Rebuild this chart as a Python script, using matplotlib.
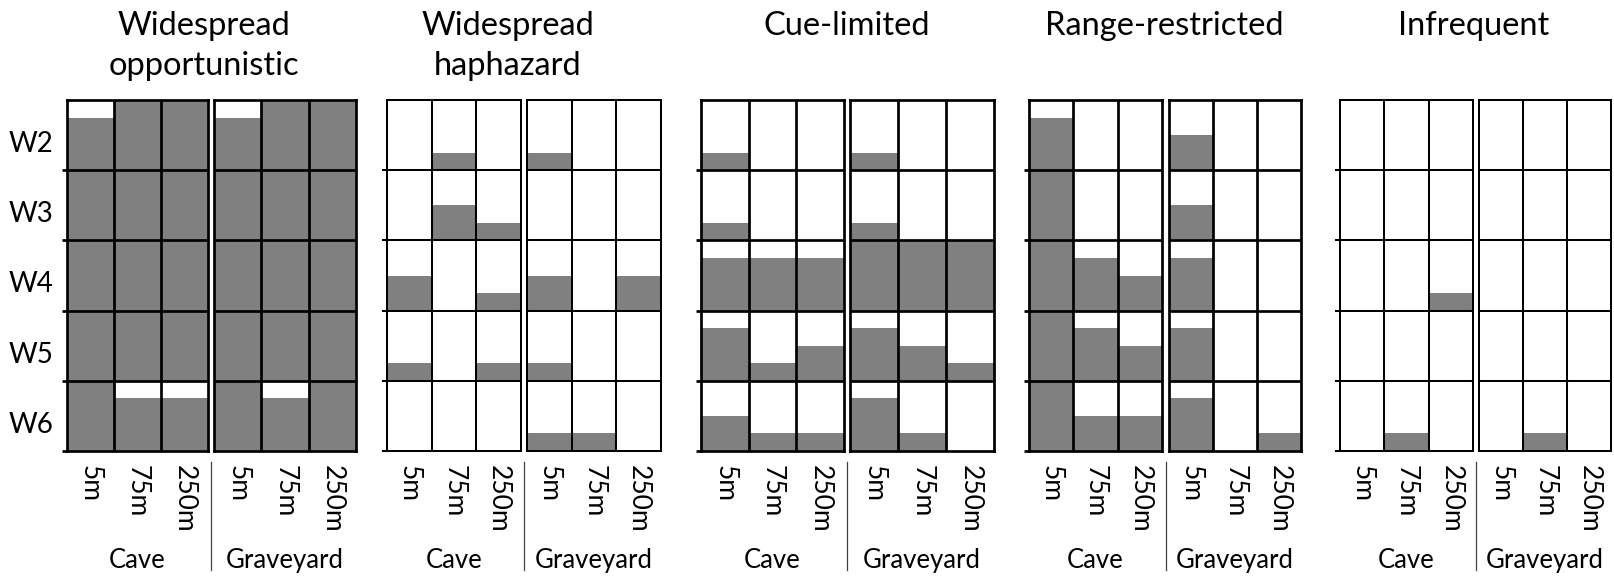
import matplotlib
matplotlib.use("Agg")
import matplotlib.pyplot as plt
import matplotlib.transforms as mtransforms
from matplotlib.lines import Line2D
import numpy as np

plt.rcParams["font.family"] = ["Lato", "DejaVu Sans"]

# ---- data: fraction of each cell filled (rows W2..W6, columns 5m/75m/250m) ----
weeks = ["W2", "W3", "W4", "W5", "W6"]
distances = ["5m", "75m", "250m"]
habitats = ["Cave", "Graveyard"]
titles = ["Widespread\nopportunistic", "Widespread\nhaphazard", "Cue-limited",
          "Range-restricted", "Infrequent"]

opportunistic_cave = [[0.75, 1, 1], [1, 1, 1], [1, 1, 1], [1, 1, 1], [1, 0.75, 0.75]]
opportunistic_grave = [[0.75, 1, 1], [1, 1, 1], [1, 1, 1], [1, 1, 1], [1, 0.75, 1]]

haphazard_cave = [[0, 0.25, 0], [0, 0.5, 0.25], [0.5, 0, 0.25], [0.25, 0, 0.25], [0, 0, 0]]
haphazard_grave = [[0.25, 0, 0], [0, 0, 0], [0.5, 0, 0.5], [0.25, 0, 0], [0.25, 0.25, 0]]

cue_cave = [[0.25, 0, 0], [0.25, 0, 0], [0.75, 0.75, 0.75], [0.75, 0.25, 0.5], [0.5, 0.25, 0.25]]
cue_grave = [[0.25, 0, 0], [0.25, 0, 0], [1, 1, 1], [0.75, 0.5, 0.25], [0.75, 0.25, 0]]

range_cave = [[0.75, 0, 0], [1, 0, 0], [1, 0.75, 0.5], [1, 0.75, 0.5], [1, 0.5, 0.5]]
range_grave = [[0.5, 0, 0], [0.5, 0, 0], [0.75, 0, 0], [0.75, 0, 0], [0.75, 0, 0.25]]

infrequent_cave = [[0, 0, 0], [0, 0, 0], [0, 0, 0.25], [0, 0, 0], [0, 0.25, 0]]
infrequent_grave = [[0, 0, 0], [0, 0, 0], [0, 0, 0], [0, 0, 0], [0, 0.25, 0]]

panels = [
    (opportunistic_cave, opportunistic_grave),
    (haphazard_cave, haphazard_grave),
    (cue_cave, cue_grave),
    (range_cave, range_grave),
    (infrequent_cave, infrequent_grave),
]

# ---- layout (figure pixels) ----
W, H, DPI = 1614, 576, 100
grid_top, grid_bottom = 100, 451
sub_x = [
    ((67, 208), (214, 356)),
    ((387, 521), (527, 661)),
    ((701, 844), (850, 994)),
    ((1029, 1162), (1169, 1301)),
    ((1340, 1473), (1479, 1611)),
]
title_x = [204, 508, 847, 1164, 1474]
line_w = [1.95, 1.45, 1.95, 1.95, 1.45]
fill_color = "#808080"

fig = plt.figure(figsize=(W / DPI, H / DPI), dpi=DPI)


def px_axes(x0, x1):
    return fig.add_axes([x0 / W, (H - grid_bottom) / H,
                         (x1 - x0) / W, (grid_bottom - grid_top) / H])


for p, (pair, subs) in enumerate(zip(panels, sub_x)):
    lw = line_w[p]
    for h, (vals, (x0, x1)) in enumerate(zip(pair, subs)):
        ax = px_axes(x0, x1)
        vals = np.asarray(vals, dtype=float)
        cols = np.arange(len(distances))
        for i in range(len(weeks)):
            base = len(weeks) - 1 - i
            ax.bar(cols, vals[i], bottom=base, width=1.0,
                   color=fill_color, linewidth=0, zorder=1)
        for y in range(1, len(weeks)):
            ax.axhline(y, color="black", lw=lw, zorder=3)
        for x in cols[:-1] + 0.5:
            ax.axvline(x, color="black", lw=lw, zorder=3)
        ax.set_xlim(-0.5, len(distances) - 0.5)
        ax.set_ylim(0, len(weeks))
        for s in ax.spines.values():
            s.set_linewidth(lw)
            s.set_zorder(4)
        ax.set_xticks(cols)
        ax.set_xticklabels(distances, rotation=270, fontsize=19,
                           va="top", ha="center")
        ax.tick_params(axis="x", length=0, pad=10)
        if h == 0:
            ax.set_yticks(range(len(weeks)))
            ax.set_yticklabels([])
            ax.tick_params(axis="y", length=3.8, width=lw, direction="out")
        else:
            ax.set_yticks([])
        fig.text((x0 + x1) / 2 / W, 1 - 568 / H, habitats[h],
                 ha="center", va="baseline", fontsize=18.5)
        if p == 0 and h == 0:
            trans = (mtransforms.blended_transform_factory(fig.transFigure, ax.transData)
                     + mtransforms.ScaledTranslation(0, -9 / DPI, fig.dpi_scale_trans))
            for i, wk in enumerate(weeks):
                ax.text(31 / W, len(weeks) - 1 - i + 0.5, wk, transform=trans,
                        ha="center", va="center", fontsize=20)

    # divider between the two habitats
    xm = (subs[0][1] + subs[1][0]) / 2 / W
    fig.add_artist(Line2D([xm, xm], [1 - 462 / H, 1 - 570 / H],
                          transform=fig.transFigure, color="#404040", lw=0.9))

    # panel title, one line per baseline
    for k, line in enumerate(titles[p].split("\n")):
        fig.text(title_x[p] / W, 1 - (35 + 40 * k) / H, line,
                 ha="center", va="baseline", fontsize=23.5)

fig.savefig("out.png", dpi=DPI, facecolor="white")
